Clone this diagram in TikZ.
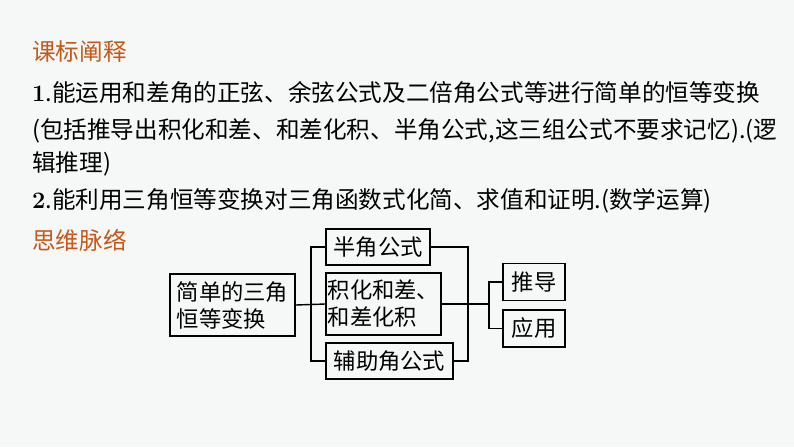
\documentclass[tikz,border=0pt]{standalone}
\usepackage{fontspec}
\newfontfamily\cjk{Noto Sans CJK SC}
\definecolor{bg}{RGB}{246,248,247}
\definecolor{ttl}{RGB}{196,89,27}
\begin{document}
\begin{tikzpicture}[x=1pt,y=-1pt,
  txt/.style={anchor=west,inner sep=0pt,font=\cjk\fontsize{23.6}{24}\selectfont},
  ttlt/.style={txt,text=ttl},
  bx/.style={draw,line width=1.4pt,minimum width=#1,inner sep=0pt,font=\cjk\fontsize{22.3}{27}\selectfont,align=left},
  ln/.style={line width=1.4pt}]
\fill[bg] (0,0) rectangle (794,447);
\useasboundingbox (0,0) rectangle (794,447);
\node[ttlt] (t1) at (32,52) {课标阐释};
\node[txt] (l1) at (32,93) {{\rmfamily\bfseries 1}.能运用和差角的正弦、余弦公式及二倍角公式等进行简单的恒等变换};
\node[txt] (l2) at (32,131) {(包括推导出积化和差、和差化积、半角公式,这三组公式不要求记忆).(逻};
\node[txt] (l3) at (32,164) {辑推理)};
\node[txt] (l4) at (32,201) {{\rmfamily\bfseries 2}.能利用三角恒等变换对三角函数式化简、求值和证明.(数学运算)};
\node[ttlt] (t2) at (32,240) {思维脉络};
\node[bx=125pt,minimum height=62pt] (a) at (232.5,305) {简单的三角\\恒等变换};
\node[bx=104pt,minimum height=36pt] (h) at (378,247) {半角公式};
\node[bx=115pt,minimum height=62pt] (p) at (383.5,304) {积化和差、\\和差化积};
\node[bx=127pt,minimum height=36pt] (f) at (389.5,361) {辅助角公式};
\node[bx=62pt,minimum height=37pt] (d) at (534,282) {推导};
\node[bx=62pt,minimum height=37pt] (y) at (534,328.5) {应用};
\coordinate (lx) at (311,0);
\coordinate (rx) at (468,0);
\coordinate (sx) at (489,0);
\draw[ln] (a.east) -- (p.west);
\draw[ln] (h.west) -- (h.west -| lx) -- (f.west -| lx) -- (f.west);
\draw[ln] (h.east) -- (h.east -| rx) -- (f.east -| rx) -- (f.east);
\draw[ln] (p.east) -- (p.east -| sx);
\draw[ln] (d.west) -- (d.west -| sx) -- (y.west -| sx) -- (y.west);
\end{tikzpicture}
\end{document}
